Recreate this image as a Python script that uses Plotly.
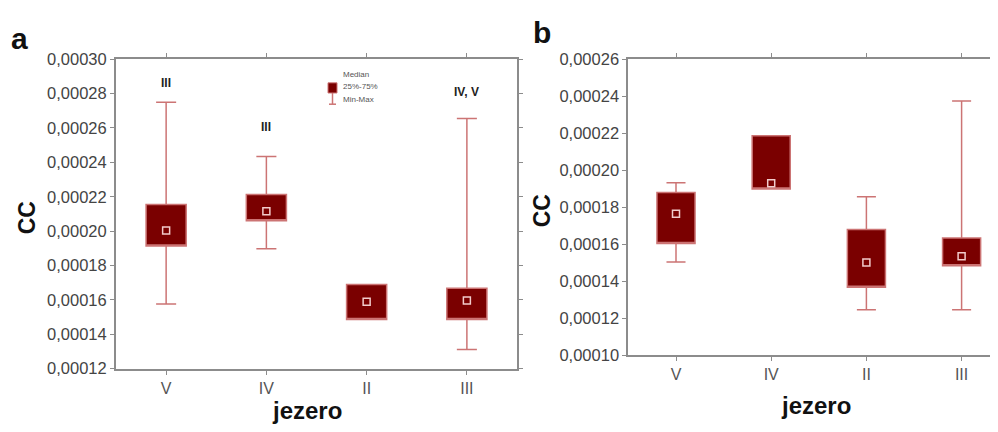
import plotly.graph_objects as go

W, H = 998, 432
OFF = 8  # page body margin offset of the rendered figure

categories = ["V", "IV", "II", "III"]

# Panel a
a_min = [0.0001576, 0.0001897, 0.0001486, 0.0001312]
a_q1 = [0.0001914, 0.0002060, 0.0001486, 0.0001486]
a_med = [0.0002004, 0.0002116, 0.0001590, 0.0001596]
a_q3 = [0.0002155, 0.0002213, 0.0001690, 0.0001668]
a_max = [0.0002750, 0.0002434, 0.0001690, 0.0002655]
a_sig_labels = ["III", "III", "", "IV, V"]
a_sig_y = [0.0002860, 0.0002604, None, 0.0002810]

# Panel b
b_min = [0.0001505, 0.0001899, 0.0001246, 0.0001246]
b_q1 = [0.0001605, 0.0001899, 0.0001368, 0.0001484]
b_med = [0.0001766, 0.0001930, 0.0001502, 0.0001536]
b_q3 = [0.0001880, 0.0002187, 0.0001680, 0.0001634]
b_max = [0.0001933, 0.0002187, 0.0001857, 0.0002375]

FILL = "#7a0000"
WHISK = "#cc7474"
MED = "#f2cccc"
AXC = "#8c8c8c"
FONT = "Liberation Sans, Arial, sans-serif"


def px(x):
    return (x - OFF) / W


def py(y):
    return 1 - (y - OFF) / H


fig = go.Figure()


def add_panel(xa, ya, mn, q1, med, q3, mx):
    # box + whiskers; median line hidden on the lower box edge,
    # the real median is shown by the square marker below
    fig.add_trace(go.Box(
        x=categories, q1=q1, median=q1, q3=q3,
        lowerfence=mn, upperfence=mx,
        width=0.4, whiskerwidth=0.5,
        fillcolor=FILL, line=dict(color=WHISK, width=1.5),
        boxpoints=False, showlegend=False, hoverinfo="skip",
        xaxis=xa, yaxis=ya,
    ))
    fig.add_trace(go.Scatter(
        x=categories, y=med, mode="markers",
        marker=dict(symbol="square-open", size=7, color=MED, line=dict(width=1.5, color=MED)),
        showlegend=False, xaxis=xa, yaxis=ya,
    ))


add_panel("x", "y", a_min, a_q1, a_med, a_q3, a_max)
add_panel("x2", "y2", b_min, b_q1, b_med, b_q3, b_max)

common_x = dict(
    type="category", categoryorder="array", categoryarray=categories,
    showline=True, linecolor=AXC, linewidth=2, mirror="ticks",
    ticks="outside", ticklen=4, tickcolor=AXC, tickwidth=1,
    tickfont=dict(family=FONT, size=16, color="#555555"),
    showgrid=False, zeroline=False, fixedrange=True,
)
common_y = dict(
    showline=True, linecolor=AXC, linewidth=2,
    ticks="outside", ticklen=4, tickcolor=AXC, tickwidth=1,
    tickfont=dict(family=FONT, size=16.5, color="#444444"),
    tickformat=".5f", dtick=0.00002,
    showgrid=False, zeroline=False, fixedrange=True,
)

fig.update_layout(
    width=W, height=H,
    margin=dict(l=0, r=0, t=0, b=0),
    paper_bgcolor="white", plot_bgcolor="white",
    separators=", ",
    boxmode="overlay",
    xaxis=dict(common_x, domain=[px(116), px(517)], anchor="y", range=[-0.5, 3.5]),
    yaxis=dict(common_y, domain=[py(375), py(52)], anchor="x", mirror="ticks",
               range=[0.00012 - 1e-9, 0.00030 + 1e-9], tick0=0.00012),
    xaxis2=dict(common_x, domain=[px(628.4), 1.0], anchor="y2",
                range=[-0.5, (W + OFF - 628.4) / 95.2 - 0.5]),
    yaxis2=dict(common_y, domain=[py(361), py(52.3)], anchor="x2", mirror=False,
                range=[0.00010 - 1e-9, 0.00026 + 1e-9], tick0=0.00010),
)

ann = []
# panel letters
ann.append(dict(text="<b>a</b>", x=px(19), y=py(30), xref="paper", yref="paper",
                showarrow=False, font=dict(family=FONT, size=30, color="#111"),
                xanchor="center", yanchor="middle"))
ann.append(dict(text="<b>b</b>", x=px(541.7), y=py(24), xref="paper", yref="paper",
                showarrow=False, font=dict(family=FONT, size=30, color="#111"),
                xanchor="center", yanchor="middle"))
# axis titles
for xc, yc in [(27, 218), (541.7, 210)]:
    ann.append(dict(text="<b>CC</b>", x=px(xc), y=py(yc), xref="paper", yref="paper",
                    showarrow=False, textangle=-90,
                    font=dict(family=FONT, size=23, color="#111"),
                    xanchor="center", yanchor="middle"))
for xc, yc in [(307, 419), (816, 413)]:
    ann.append(dict(text="<b>jezero</b>", x=px(xc), y=py(yc), xref="paper", yref="paper",
                    showarrow=False, font=dict(family=FONT, size=24, color="#111"),
                    xanchor="center", yanchor="middle"))
# significance labels
for c, t, yv in zip(categories, a_sig_labels, a_sig_y):
    if t:
        ann.append(dict(text="<b>" + t + "</b>", x=c, y=yv, xref="x", yref="y",
                        showarrow=False, font=dict(family=FONT, size=12, color="#222"),
                        xanchor="center", yanchor="middle"))
# legend texts
for t, yy in [("Median", 67.7), ("25%-75%", 81), ("Min-Max", 94.3)]:
    ann.append(dict(text=t, x=px(340.5), y=py(yy), xref="paper", yref="paper",
                    showarrow=False, font=dict(family=FONT, size=8, color="#555"),
                    xanchor="left", yanchor="middle"))
fig.update_layout(annotations=ann)

# legend icon
fig.add_shape(type="line", xref="paper", yref="paper",
              x0=px(332.5), x1=px(332.5), y0=py(87), y1=py(99),
              line=dict(color=WHISK, width=1.5))
fig.add_shape(type="line", xref="paper", yref="paper",
              x0=px(329), x1=px(336), y0=py(99), y1=py(99),
              line=dict(color=WHISK, width=1.5))
fig.add_shape(type="rect", xref="paper", yref="paper",
              x0=px(328), x1=px(337), y0=py(87.3), y1=py(76.7),
              fillcolor=FILL, line=dict(color=WHISK, width=1))

fig.write_html("out.html")
